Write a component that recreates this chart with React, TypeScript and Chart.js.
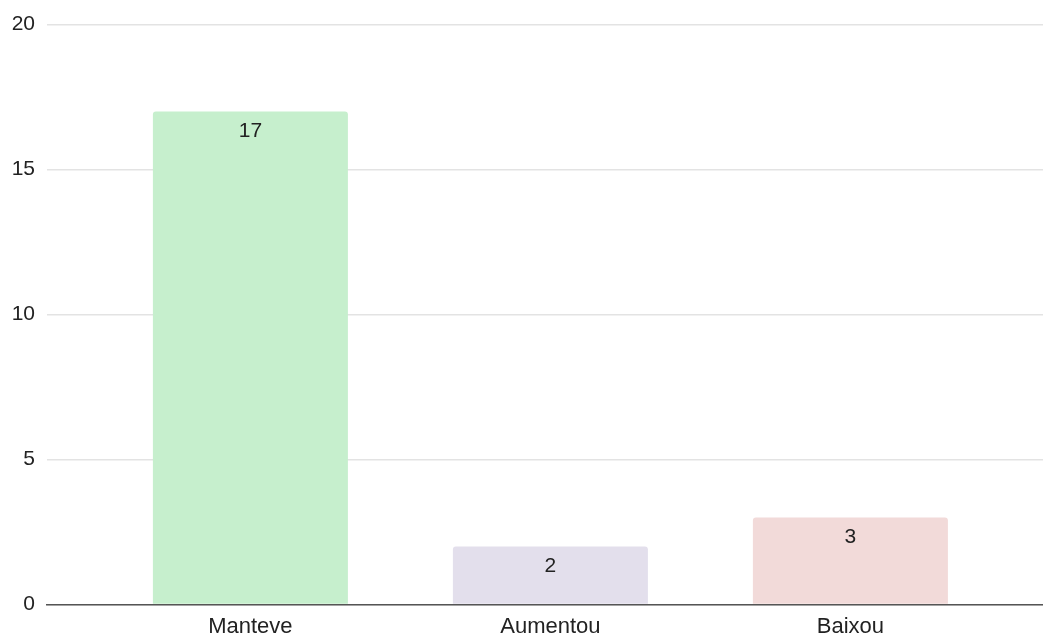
import React, { useEffect, useRef } from "react";
import { Chart, registerables } from "chart.js";

Chart.register(...registerables);

const categories = ["Manteve", "Aumentou", "Baixou"];
const values = [17, 2, 3];
const barColors = ["#c6efcd", "#e3dfec", "#f2dad9"];
const yTicks = [0, 5, 10, 15, 20];

const FONT = "'Liberation Sans', Arial, Helvetica, sans-serif";

const valueLabels = {
  id: "valueLabels",
  afterDatasetsDraw(chart: any) {
    const ctx = chart.ctx;
    const meta = chart.getDatasetMeta(0);
    ctx.save();
    ctx.font = `21px ${FONT}`;
    ctx.fillStyle = "#222222";
    ctx.textAlign = "center";
    ctx.textBaseline = "middle";
    meta.data.forEach((bar: any, i: number) => {
      ctx.fillText(String(values[i]), bar.x, bar.y + 20);
    });
    ctx.restore();
  },
};

export default function App() {
  const ref = useRef<HTMLCanvasElement | null>(null);
  useEffect(() => {
    if (!ref.current) return;
    const chart = new Chart(ref.current, {
      type: "bar",
      data: {
        datasets: [
          {
            data: values.map((v, i) => ({ x: i, y: v })),
            backgroundColor: barColors,
            borderWidth: 0,
            borderRadius: { topLeft: 3, topRight: 3, bottomLeft: 0, bottomRight: 0 },
            borderSkipped: "start",
            categoryPercentage: 1,
            barPercentage: 0.65,
          } as any,
        ],
      },
      options: {
        animation: false,
        responsive: false,
        maintainAspectRatio: false,
        layout: { padding: { left: 0, right: 0, top: 24.5, bottom: 0 } },
        plugins: {
          legend: { display: false },
          tooltip: { enabled: false },
        },
        scales: {
          x: {
            type: "linear",
            offset: false,
            min: -0.678,
            max: 2.642,
            z: 1,
            afterBuildTicks: (scale: any) => {
              scale.ticks = categories.map((_, i) => ({ value: i }));
            },
            afterFit: (scale: any) => {
              scale.height = 35.5;
            },
            grid: { display: false, drawTicks: false, offset: false },
            border: { display: true, color: "#555555", width: 1.5 },
            ticks: {
              padding: 9,
              autoSkip: false,
              maxRotation: 0,
              color: "#222222",
              font: { family: FONT, size: 22 },
              callback: (v: any) => categories[Number(v)] ?? "",
            },
          },
          y: {
            min: 0,
            max: 20,
            afterBuildTicks: (scale: any) => {
              scale.ticks = yTicks.map((v) => ({ value: v }));
            },
            afterFit: (scale: any) => {
              scale.width = 47;
            },
            grid: { color: "#e3e3e3", lineWidth: 1.5, drawTicks: false },
            border: { display: false },
            ticks: {
              padding: 12,
              color: "#222222",
              font: { family: FONT, size: 21 },
            },
          },
        },
      } as any,
      plugins: [valueLabels],
    });
    return () => chart.destroy();
  }, []);
  return (
    <div style={{ position: "absolute", left: 0, top: 0, width: 1043, height: 640, background: "#ffffff" }}>
      <canvas ref={ref} width={1043} height={640} style={{ display: "block" }} />
    </div>
  );
}
